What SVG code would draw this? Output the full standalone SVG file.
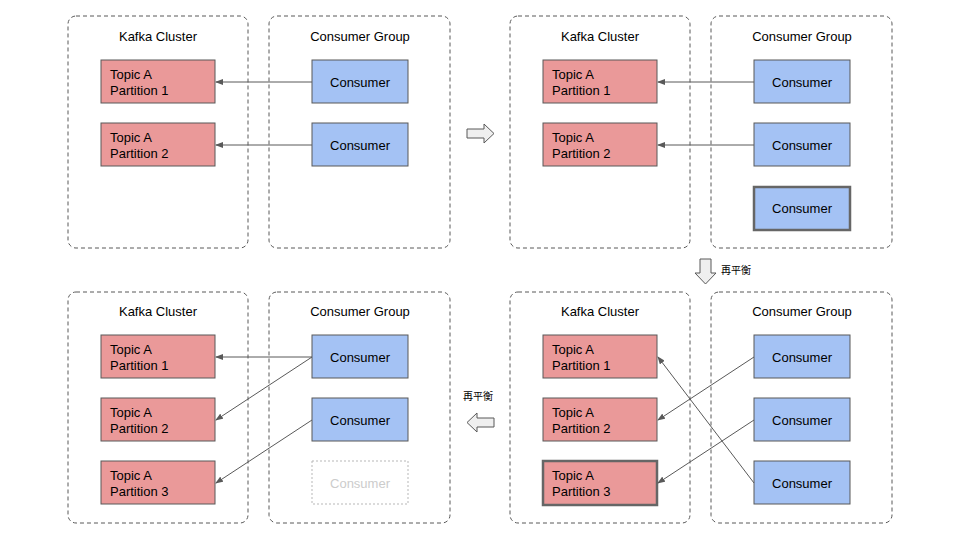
<svg xmlns="http://www.w3.org/2000/svg" width="960" height="540" viewBox="0 0 960 540">
<defs>
<style>
.panel{fill:#fff;stroke:#595959;stroke-width:1;stroke-dasharray:4,3}
.title{font-family:"Liberation Sans",Arial,sans-serif;font-size:13px;fill:#000;text-anchor:middle}
.part{fill:#ea9999;stroke:#595959;stroke-width:1}
.cons{fill:#a4c2f4;stroke:#595959;stroke-width:1}
.bold{stroke:#666;stroke-width:2.5}
.ghost{fill:none;stroke:#b7b7b7;stroke-width:1;stroke-dasharray:2,2}
.t{font-family:"Liberation Sans",Arial,sans-serif;font-size:13px;fill:#000}
.tc{font-family:"Liberation Sans",Arial,sans-serif;font-size:13px;fill:#000;text-anchor:middle}
.tg{font-family:"Liberation Sans",Arial,sans-serif;font-size:13px;fill:#cccccc;text-anchor:middle}
.conn{stroke:#595959;stroke-width:1;fill:none;marker-end:url(#ah)}
.big{fill:#efefef;stroke:#595959;stroke-width:1}
.cjk{font-family:"Noto Sans CJK JP","Noto Sans CJK SC",sans-serif;font-size:10px;fill:#000}
</style>
<marker id="ah" markerWidth="8" markerHeight="6" refX="7" refY="3" orient="auto" markerUnits="userSpaceOnUse">
<path d="M0,0 L8,3 L0,6 Z" fill="#595959"/>
</marker>
</defs>

<!-- Panels -->
<g id="tl-kafka"><rect class="panel" x="68" y="16" width="180" height="232" rx="8"/><text class="title" x="158" y="41">Kafka Cluster</text></g>
<g id="tl-group"><rect class="panel" x="269" y="16" width="181" height="232" rx="8"/><text class="title" x="360" y="41">Consumer Group</text></g>
<g id="tr-kafka"><rect class="panel" x="510" y="16" width="180" height="232" rx="8"/><text class="title" x="600" y="41">Kafka Cluster</text></g>
<g id="tr-group"><rect class="panel" x="711" y="16" width="181" height="232" rx="8"/><text class="title" x="802" y="41">Consumer Group</text></g>
<g id="bl-kafka"><rect class="panel" x="68" y="292" width="180" height="231" rx="8"/><text class="title" x="158" y="316">Kafka Cluster</text></g>
<g id="bl-group"><rect class="panel" x="269" y="292" width="181" height="231" rx="8"/><text class="title" x="360" y="316">Consumer Group</text></g>
<g id="br-kafka"><rect class="panel" x="510" y="292" width="180" height="231" rx="8"/><text class="title" x="600" y="316">Kafka Cluster</text></g>
<g id="br-group"><rect class="panel" x="711" y="292" width="181" height="231" rx="8"/><text class="title" x="802" y="316">Consumer Group</text></g>

<!-- Top-left -->
<g id="tl-p1"><rect class="part" x="101" y="60" width="114" height="43"/><text class="t" x="110" y="79">Topic A</text><text class="t" x="110" y="95">Partition 1</text></g>
<g id="tl-p2"><rect class="part" x="101" y="123" width="114" height="43"/><text class="t" x="110" y="142">Topic A</text><text class="t" x="110" y="158">Partition 2</text></g>
<g id="tl-c1"><rect class="cons" x="312" y="60" width="96" height="43"/><text class="tc" x="360" y="87">Consumer</text></g>
<g id="tl-c2"><rect class="cons" x="312" y="123" width="96" height="43"/><text class="tc" x="360" y="150">Consumer</text></g>

<!-- Top-right -->
<g id="tr-p1"><rect class="part" x="543" y="60" width="114" height="43"/><text class="t" x="552" y="79">Topic A</text><text class="t" x="552" y="95">Partition 1</text></g>
<g id="tr-p2"><rect class="part" x="543" y="123" width="114" height="43"/><text class="t" x="552" y="142">Topic A</text><text class="t" x="552" y="158">Partition 2</text></g>
<g id="tr-c1"><rect class="cons" x="754" y="60" width="96" height="43"/><text class="tc" x="802" y="87">Consumer</text></g>
<g id="tr-c2"><rect class="cons" x="754" y="123" width="96" height="43"/><text class="tc" x="802" y="150">Consumer</text></g>
<g id="tr-c3"><rect class="cons bold" x="754" y="187" width="96" height="43"/><text class="tc" x="802" y="213">Consumer</text></g>

<!-- Bottom-left -->
<g id="bl-p1"><rect class="part" x="101" y="335" width="114" height="43"/><text class="t" x="110" y="354">Topic A</text><text class="t" x="110" y="370">Partition 1</text></g>
<g id="bl-p2"><rect class="part" x="101" y="398" width="114" height="43"/><text class="t" x="110" y="417">Topic A</text><text class="t" x="110" y="433">Partition 2</text></g>
<g id="bl-p3"><rect class="part" x="101" y="461" width="114" height="43"/><text class="t" x="110" y="480">Topic A</text><text class="t" x="110" y="496">Partition 3</text></g>
<g id="bl-c1"><rect class="cons" x="312" y="335" width="96" height="43"/><text class="tc" x="360" y="362">Consumer</text></g>
<g id="bl-c2"><rect class="cons" x="312" y="398" width="96" height="43"/><text class="tc" x="360" y="425">Consumer</text></g>
<g id="bl-c3"><rect class="ghost" x="312" y="461" width="96" height="43"/><text class="tg" x="360" y="488">Consumer</text></g>

<!-- Bottom-right -->
<g id="br-p1"><rect class="part" x="543" y="335" width="114" height="43"/><text class="t" x="552" y="354">Topic A</text><text class="t" x="552" y="370">Partition 1</text></g>
<g id="br-p2"><rect class="part" x="543" y="398" width="114" height="43"/><text class="t" x="552" y="417">Topic A</text><text class="t" x="552" y="433">Partition 2</text></g>
<g id="br-p3"><rect class="part bold" x="543" y="461" width="114" height="44"/><text class="t" x="552" y="480">Topic A</text><text class="t" x="552" y="496">Partition 3</text></g>
<g id="br-c1"><rect class="cons" x="754" y="335" width="96" height="43"/><text class="tc" x="802" y="362">Consumer</text></g>
<g id="br-c2"><rect class="cons" x="754" y="398" width="96" height="43"/><text class="tc" x="802" y="425">Consumer</text></g>
<g id="br-c3"><rect class="cons" x="754" y="461" width="96" height="43"/><text class="tc" x="802" y="488">Consumer</text></g>

<!-- Connectors -->
<g id="connectors">
<line class="conn" x1="312" y1="82" x2="216" y2="82"/>
<line class="conn" x1="312" y1="145" x2="216" y2="145"/>
<line class="conn" x1="754" y1="82" x2="658" y2="82"/>
<line class="conn" x1="754" y1="145" x2="658" y2="145"/>
<line class="conn" x1="312" y1="357" x2="216" y2="357"/>
<line class="conn" x1="312" y1="357" x2="216" y2="420"/>
<line class="conn" x1="312" y1="420" x2="216" y2="483"/>
<line class="conn" x1="754" y1="357" x2="658" y2="420"/>
<line class="conn" x1="754" y1="420" x2="658" y2="483"/>
<line class="conn" x1="754" y1="483" x2="658" y2="357"/>
</g>

<!-- Transition arrows -->
<g id="arrow-right"><path class="big" d="M467,129 H484 V124 L494,133.5 L484,143 V138 H467 Z"/></g>
<g id="arrow-down"><path class="big" d="M700,259 H711 V273 H716 L705.5,284 L695,273 H700 Z"/><text class="cjk" x="721" y="274">再平衡</text></g>
<g id="arrow-left"><path class="big" d="M494,418 H477 V413 L467,422.5 L477,432 V427 H494 Z"/><text class="cjk" x="463" y="400">再平衡</text></g>
</svg>
